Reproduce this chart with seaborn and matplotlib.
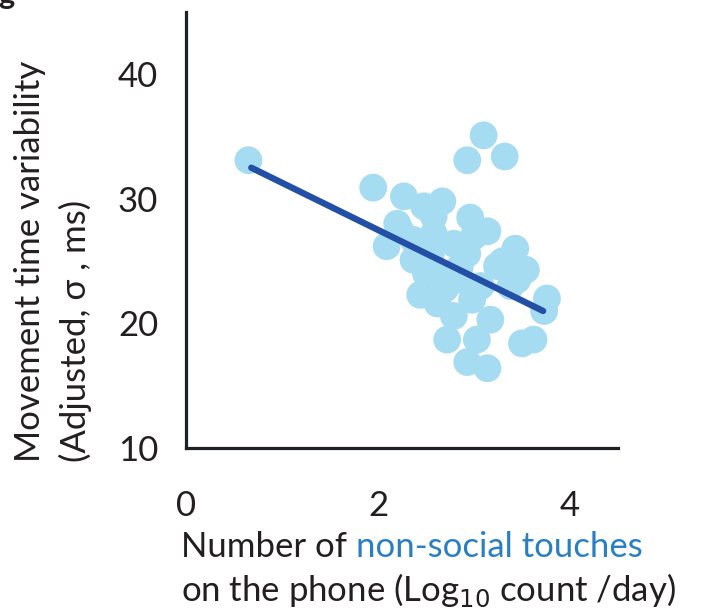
import matplotlib
matplotlib.use("Agg")
import matplotlib.pyplot as plt
import seaborn as sns
import pandas as pd

# ---- data ----
touches = [0.65, 3.10, 2.93, 3.32, 1.95, 2.27, 2.67, 2.48, 2.96, 3.14, 3.43, 3.54,
           3.76, 3.73, 2.23, 2.09, 2.37, 2.58, 2.79, 2.93, 2.68, 3.24, 3.07, 2.44,
           2.62, 2.79, 2.72, 3.17, 3.03, 2.93, 3.14, 3.50, 3.62, 2.86, 3.38, 2.98,
           2.58, 2.37, 2.55, 3.00, 3.30, 2.85, 2.20, 3.45, 2.50, 2.70]
variability = [33.1, 35.1, 33.1, 33.4, 30.9, 30.2, 29.8, 29.4, 28.5, 27.4, 26.0, 24.3,
               22.0, 21.0, 27.5, 26.2, 25.1, 27.2, 26.4, 25.6, 24.0, 24.6, 23.0, 22.3,
               21.6, 20.6, 18.7, 20.3, 18.7, 16.9, 16.4, 18.4, 18.7, 23.5, 23.0, 21.9,
               28.6, 26.7, 25.5, 27.0, 25.0, 24.5, 28.0, 23.5, 24.0, 22.8]
fit_x = [0.68, 3.72]
fit_y = [32.5, 21.0]
x_ticks = [0, 2, 4]
y_ticks = [10, 20, 30, 40]

df = pd.DataFrame({"x": touches, "y": variability})
fit = pd.DataFrame({"x": fit_x, "y": fit_y})

sns.set_style("white")
plt.rcParams["font.family"] = ["Lato", "DejaVu Sans"]

W, H = 705, 615
FS = 25
fig = plt.figure(figsize=(W / 100, H / 100), dpi=100)
ax = fig.add_axes([186 / W, 1 - 448 / H, (618 - 186) / W, (448 - 12) / H])

sns.scatterplot(data=df, x="x", y="y", ax=ax, s=400, color="#a6dcf1",
                edgecolor="none", linewidth=0, alpha=1, zorder=2, legend=False)
sns.lineplot(data=fit, x="x", y="y", ax=ax, color="#2350a6", linewidth=4.6,
             zorder=3, legend=False)

ax.set_xlim(0, 4.5)
ax.set_ylim(10, 45)
ax.set_xticks(x_ticks)
ax.set_yticks(y_ticks)
ax.set_xticklabels([str(t) for t in x_ticks])
ax.set_yticklabels([str(t) for t in y_ticks])
ax.set_xlabel("")
ax.set_ylabel("")

for s in ["top", "right"]:
    ax.spines[s].set_visible(False)
for s in ["left", "bottom"]:
    ax.spines[s].set_color("#1d2024")
    ax.spines[s].set_linewidth(2.3)
ax.tick_params(axis="both", direction="in", length=4, width=1.5, color="#888888",
               labelsize=FS, labelcolor="#231f20")
ax.tick_params(axis="x", pad=30)
ax.tick_params(axis="y", pad=20)

# y label (two rotated lines, bottom aligned)
fig.text(30 / W, 1 - 462 / H, "Movement time variability", rotation=90,
         ha="center", va="bottom", fontsize=FS, color="#231f20")
fig.text(75 / W, 1 - 462 / H, "(Adjusted, σ , ms)", rotation=90,
         ha="center", va="bottom", fontsize=FS, color="#231f20")

# x label, first line in two colours
t1 = fig.text(181 / W, 1 - 547 / H, "Number of ", ha="left", va="center",
              fontsize=FS, color="#231f20")
fig.canvas.draw()
bb = t1.get_window_extent(renderer=fig.canvas.get_renderer())
fig.text(bb.x1 / W, 1 - 547 / H, "non-social touches", ha="left", va="center",
         fontsize=FS, color="#2a7fc3")
fig.text(181 / W, 1 - 590 / H, "on the phone (Log$_{10}$ count /day)", ha="left",
         va="center", fontsize=FS, color="#231f20")

# cropped panel letter at the corner
fig.text(-2 / W, 1 - 4 / H, "g", ha="left", va="baseline", fontsize=22,
         fontweight="bold", color="#231f20")

fig.savefig("out.png", dpi=100)
